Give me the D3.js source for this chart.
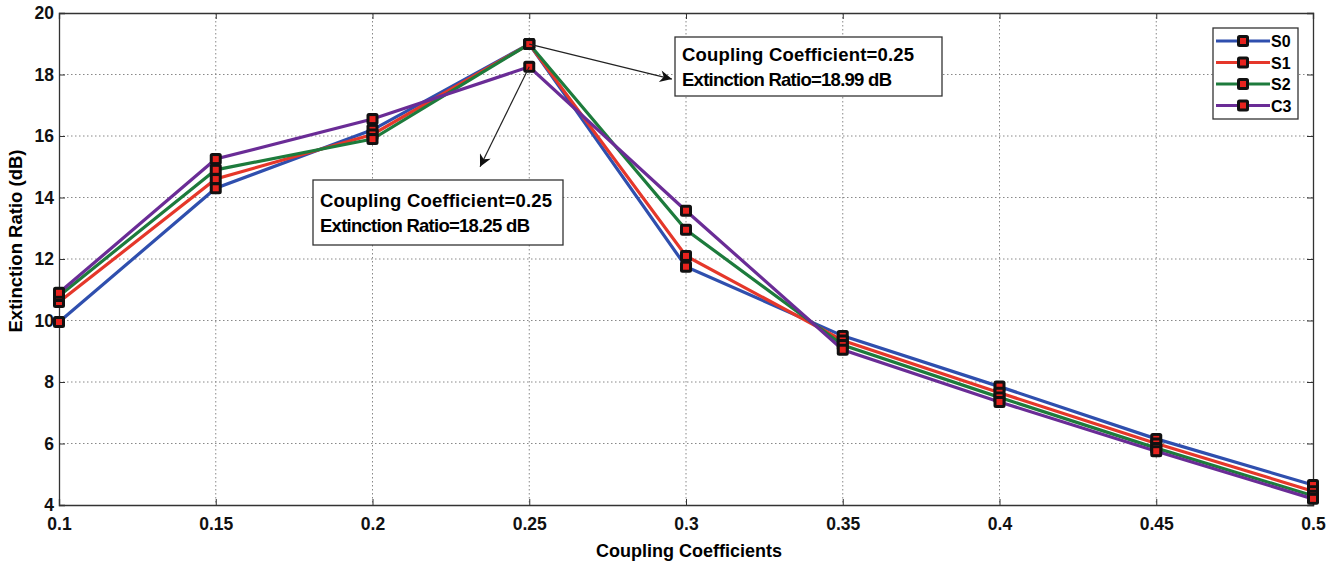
<!DOCTYPE html>
<html>
<head>
<meta charset="utf-8">
<script src="https://d3js.org/d3.v7.min.js"></script>
<style>
  body { margin: 0; background: #fff; }
  text { font-family: Arial, "Liberation Sans", sans-serif; font-weight: bold; }
</style>
</head>
<body>
<div id="graph"></div>
<script>

// data
var coupling = [0.1, 0.15, 0.2, 0.25, 0.3, 0.35, 0.4, 0.45, 0.5];
var s0 = [9.95, 14.3, 16.2, 18.99, 11.75, 9.5, 7.85, 6.15, 4.65];
var s1 = [10.6, 14.6, 16.05, 18.99, 12.1, 9.35, 7.65, 6.0, 4.45];
var s2 = [10.8, 14.9, 15.9, 18.99, 12.95, 9.2, 7.5, 5.85, 4.3];
var c3 = [10.9, 15.25, 16.55, 18.25, 13.57, 9.05, 7.35, 5.75, 4.2];
var seriesNames = ["S0", "S1", "S2", "C3"];
var seriesColors = ["#2f4fae", "#e5372a", "#1d7b3c", "#6a2c96"];
var xTicks = [0.1, 0.15, 0.2, 0.25, 0.3, 0.35, 0.4, 0.45, 0.5];
var yTicks = [4, 6, 8, 10, 12, 14, 16, 18, 20];

var series = [s0, s1, s2, c3];

var margin = {top: 13, right: 22, bottom: 60, left: 59},
  width = 1335 - margin.left - margin.right,
  height = 565 - margin.top - margin.bottom;

var svg = d3.select("#graph")
  .append("svg")
    .attr("width", 1335)
    .attr("height", 565)
  .append("g")
    .attr("transform", "translate(" + margin.left + "," + margin.top + ")");

var x = d3.scaleLinear().domain([0.1, 0.5]).range([0, width]);
var y = d3.scaleLinear().domain([4, 20]).range([height, 0]);

// grid
svg.append("g").selectAll("line")
  .data(xTicks.slice(1, -1))
  .enter().append("line")
    .attr("x1", d => x(d)).attr("x2", d => x(d))
    .attr("y1", 0).attr("y2", height)
    .style("stroke", "#888").style("stroke-dasharray", "1.5,2.5");
svg.append("g").selectAll("line")
  .data(yTicks.slice(1, -1))
  .enter().append("line")
    .attr("y1", d => y(d)).attr("y2", d => y(d))
    .attr("x1", 0).attr("x2", width)
    .style("stroke", "#888").style("stroke-dasharray", "1.5,2.5");

// axes
var xAxis = svg.append("g")
  .attr("transform", "translate(0," + height + ")")
  .call(d3.axisBottom(x).tickValues(xTicks).tickSize(-6).tickPadding(13).tickFormat(d3.format("")));
var yAxis = svg.append("g")
  .call(d3.axisLeft(y).tickValues(yTicks).tickSize(-6).tickPadding(5).tickFormat(d3.format("d")));
var xAxisTop = svg.append("g")
  .call(d3.axisTop(x).tickValues(xTicks).tickSize(-6).tickFormat(""));
var yAxisRight = svg.append("g")
  .attr("transform", "translate(" + width + ",0)")
  .call(d3.axisRight(y).tickValues(yTicks).tickSize(-6).tickFormat(""));
[xAxis, yAxis, xAxisTop, yAxisRight].forEach(function(a) {
  a.select(".domain").style("stroke", "#333").style("stroke-width", 1.3);
  a.selectAll(".tick line").style("stroke", "#333");
  a.selectAll("text").style("font-size", "17.5px").style("fill", "#111");
});

svg.append("text")
  .attr("x", width / 2 + 3).attr("y", height + 52)
  .attr("text-anchor", "middle")
  .style("font-size", "18px")
  .text("Coupling Coefficients");
svg.append("text")
  .attr("transform", "translate(-37," + (height / 2 - 18) + ") rotate(-90)")
  .attr("text-anchor", "middle")
  .style("font-size", "18.5px")
  .text("Extinction Ratio (dB)");

// lines
var line = d3.line()
  .x(function(d, i) { return x(coupling[i]); })
  .y(function(d) { return y(d); });

series.forEach(function(s, k) {
  svg.append("path")
    .datum(s)
    .attr("d", line)
    .style("fill", "none")
    .style("stroke", seriesColors[k])
    .style("stroke-width", 3.2);
});

// markers
function marker(g, cx, cy) {
  g.append("rect")
    .attr("x", cx - 6).attr("y", cy - 6).attr("width", 12).attr("height", 12)
    .attr("rx", 2.5)
    .style("fill", "#111");
  g.append("rect")
    .attr("x", cx - 3).attr("y", cy - 3).attr("width", 6).attr("height", 6)
    .style("fill", "#e8231e");
}
var markers = svg.append("g");
series.forEach(function(s) {
  s.forEach(function(v, i) { marker(markers, x(coupling[i]), y(v)); });
});

// annotations
svg.append("defs").append("marker")
  .attr("id", "arrow")
  .attr("viewBox", "0 0 10 10")
  .attr("refX", 10).attr("refY", 5)
  .attr("markerWidth", 14).attr("markerHeight", 12)
  .attr("markerUnits", "userSpaceOnUse")
  .attr("orient", "auto")
  .append("path")
    .attr("d", "M0,0 L10,5 L0,10 L3,5 z")
    .style("fill", "#111");

var notes = [
  {px: 0.25, py: 18.99, tx: 0.2955, ty: 17.85, bx: 616, by: 24, bw: 267, bh: 59,
   l1: "Coupling Coefficient=0.25", l2: "Extinction Ratio=18.99 dB"},
  {px: 0.25, py: 18.25, tx: 0.2343, ty: 15.0, bx: 254, by: 167, bw: 250, bh: 65,
   l1: "Coupling Coefficient=0.25", l2: "Extinction Ratio=18.25 dB"}
];
notes.forEach(function(n) {
  svg.append("line")
    .attr("x1", x(n.px)).attr("y1", y(n.py))
    .attr("x2", x(n.tx)).attr("y2", y(n.ty))
    .style("stroke", "#222").style("stroke-width", 1.2)
    .attr("marker-end", "url(#arrow)");
  svg.append("rect")
    .attr("x", n.bx).attr("y", n.by).attr("width", n.bw).attr("height", n.bh)
    .style("fill", "#fff").style("stroke", "#333").style("stroke-width", 1.3);
  svg.append("text").attr("x", n.bx + 7).attr("y", n.by + n.bh / 2 - 6)
    .style("font-size", "18.5px").attr("textLength", 232).text(n.l1);
  svg.append("text").attr("x", n.bx + 7).attr("y", n.by + n.bh / 2 + 19)
    .style("font-size", "18.5px").attr("textLength", 210).text(n.l2);
});

// legend
var legend = svg.append("g").attr("transform", "translate(1154,15)");
legend.append("rect")
  .attr("width", 85).attr("height", 91)
  .style("fill", "#fff").style("stroke", "#333").style("stroke-width", 1.3);
seriesNames.forEach(function(name, k) {
  var ly = 13 + k * 21.5;
  legend.append("line")
    .attr("x1", 3).attr("x2", 57).attr("y1", ly).attr("y2", ly)
    .style("stroke", seriesColors[k]).style("stroke-width", 3);
  marker(legend, 30, ly);
  legend.append("text")
    .attr("x", 58).attr("y", ly + 6)
    .style("font-size", "16px").text(name);
});

</script>
</body>
</html>
